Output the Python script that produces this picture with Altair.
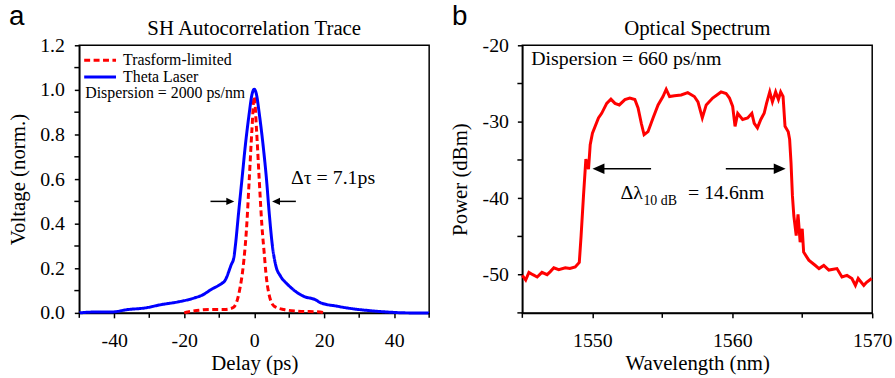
import altair as alt
import pandas as pd

SERIF = "'Liberation Serif', 'Times New Roman', Times, serif"
SANS = "'Liberation Sans', Arial, sans-serif"

# ---------------- Panel a: SH autocorrelation trace ----------------
theta_delay = [-50, -45.5, -40.8, -36.1, -31.3, -26.6, -21.9, -17.1, -14.7, -12.4, -9.0, -8.6,
               -6.6, -5.8, -5.4, -4.45, -3.5, -2.56, -1.42, -0.7, 0, 0.7, 1.42, 2.56, 3.5,
               4.26, 5.2, 6.2, 7.5, 9.5, 11.5, 14.2, 17.5, 18.9, 23.7, 28.4, 33.1, 37.9, 44.5, 50]
theta_volt = [0.0, 0.004, 0.004, 0.015, 0.022, 0.037, 0.049, 0.067, 0.081, 0.104, 0.135, 0.14,
              0.215, 0.25, 0.30, 0.452, 0.60, 0.748, 0.896, 0.975, 1.003, 0.975, 0.896, 0.748, 0.60,
              0.452, 0.30, 0.21, 0.165, 0.128, 0.1, 0.074, 0.059, 0.046, 0.03, 0.018, 0.01, 0.004, 0.0, 0.0]

tl_delay = [-20, -19, -12.4, -8.5, -6.2, -5.0, -4.26, -3.0, -2.2, -1.42, -0.66, 0,
            0.66, 1.42, 2.2, 2.9, 3.3, 4.26, 5.7, 8.5, 12.4, 18.9, 20]
tl_volt = [0.0, 0.004, 0.015, 0.015, 0.022, 0.05, 0.096, 0.23, 0.378, 0.6, 0.82, 0.97,
           0.82, 0.6, 0.39, 0.26, 0.185, 0.081, 0.03, 0.015, 0.008, 0.004, 0.0]

series_names = ["Trasform-limited", "Theta Laser"]
series_colors = ["#ff0000", "#0000ff"]

legend_x0 = [-48.6, -48.6]
legend_x1 = [-39.5, -39.5]
legend_y = [1.133, 1.058]

a_text = ["Trasform-limited", "Theta Laser", "Dispersion = 2000 ps/nm", "\u0394\u03c4 = 7.1ps"]
a_text_x = [-37.5, -37.5, -48.3, 10.5]
a_text_y = [1.113, 1.037, 0.963, 0.578]
a_text_size = [16, 16, 16, 20]

a_arrow_start = [-12.5, 11.9]
a_arrow_head = [-6.84, 6.24]
a_arrow_dir = ["right", "left"]
a_arrow_y = [0.5, 0.5]

a_x_major = [-40, -20, 0, 20, 40]
a_x_minor = [-50, -30, -10, 10, 30, 50]
a_y_major = [0.0, 0.2, 0.4, 0.6, 0.8, 1.0, 1.2]
a_y_minor = [0.1, 0.3, 0.5, 0.7, 0.9, 1.1]

# ---------------- Panel b: optical spectrum ----------------
wl = [1545.0, 1545.24, 1545.47, 1545.75, 1546.06, 1546.4, 1546.77, 1547.0, 1547.25, 1547.6,
      1548.07, 1548.4, 1548.78, 1549.07, 1549.2, 1549.37, 1549.54, 1549.73, 1549.85, 1550.01,
      1550.44, 1550.67, 1551.03, 1551.33, 1551.62, 1551.93, 1552.33, 1552.68, 1553.04, 1553.27,
      1553.5, 1553.7, 1553.98, 1554.34, 1554.7, 1555.05, 1555.28, 1555.52, 1555.87, 1556.35,
      1556.82, 1557.29, 1557.55, 1557.86, 1558.14, 1558.6, 1559.2, 1559.56, 1559.8, 1560.03,
      1560.2, 1560.39, 1560.74, 1561.1, 1561.4, 1561.57, 1561.8, 1562.04, 1562.28, 1562.45,
      1562.68, 1562.87, 1563.1, 1563.3, 1563.46, 1563.63, 1563.77, 1564.0, 1564.1, 1564.2,
      1564.3, 1564.4, 1564.57, 1564.7, 1564.85, 1565.0, 1565.1, 1565.47, 1565.94, 1566.2,
      1566.54, 1566.9, 1567.48, 1567.84, 1568.2, 1568.55, 1568.8, 1569.0, 1569.4, 1569.6, 1569.96]
power = [-50.1, -50.7, -49.7, -50.0, -50.3, -49.7, -50.0, -49.6, -49.1, -49.35,
         -49.1, -49.2, -49.0, -48.4, -44.9, -39.7, -34.9, -36.2, -33.0, -31.5,
         -29.5, -28.9, -27.6, -27.05, -27.6, -27.8, -27.1, -26.9, -27.1, -28.2,
         -30.2, -31.7, -31.3, -29.5, -27.8, -26.7, -25.75, -26.7, -26.6, -26.5,
         -26.2, -26.7, -27.4, -29.5, -27.8, -26.9, -26.1, -26.3, -26.9, -28.0,
         -30.6, -28.9, -29.7, -29.5, -28.9, -30.2, -30.8, -29.7, -28.9, -27.6,
         -26.1, -27.4, -26.1, -27.1, -26.1, -26.7, -30.6, -31.3, -32.3, -35.4,
         -39.7, -42.3, -44.9, -42.1, -45.75, -44.0, -47.05, -48.1, -48.8, -49.2,
         -48.8, -49.4, -49.2, -50.3, -50.1, -50.5, -51.4, -50.5, -51.4, -51.0, -50.5]

b_text = ["Dispersion = 660 ps/nm", "\u0394\u03bb", "10 dB", "= 14.6nm"]
b_text_x = [1545.64, 1552.02, 1553.65, 1556.84]
b_text_y = [-22.6, -40.13, -40.85, -40.13]
b_text_size = [20, 20, 14, 20]

b_arrow_start = [1554.2, 1559.54]
b_arrow_head = [1550.44, 1563.39]
b_arrow_dir = ["left", "right"]
b_arrow_y = [-36.15, -36.15]

b_x_major = [1550, 1560, 1570]
b_x_minor = [1545, 1555, 1565]
b_y_major = [-50, -40, -30, -20]
b_y_minor = [-55, -45, -35, -25]

PLOT_W, PLOT_H = 353, 270
HYPHEN_EXPR = "replace(datum.label, '\u2212', '-')"


# ---------------- helpers ----------------
def axis(title, values, label_pad, title_pad, fmt=None, expr=None):
    kw = {}
    if fmt is not None:
        kw["format"] = fmt
    if expr is not None:
        kw["labelExpr"] = expr
    return alt.Axis(title=title, values=values, grid=False,
                    domainColor="black", domainWidth=1.5, tickColor="black", tickWidth=1.5,
                    tickSize=5, labelFont=SERIF, labelFontSize=20, labelColor="black",
                    titleFont=SERIF, titleFontSize=21, titleFontWeight="normal",
                    titleColor="black", labelFlush=False, labelOverlap=False,
                    labelPadding=label_pad, titlePadding=title_pad, **kw)


def head_paths(r):
    return {"right": f"M-1,-{r}L1,0L-1,{r}Z", "left": f"M1,-{r}L-1,0L1,{r}Z"}


def panel(curves, xs, ys, x_minor, y_minor, text_df, arrows_df, legend_df, title, letter,
          head_size, head_ratio, color_enc=None, dash_enc=None, single_color=None,
          interp="linear"):
    layers = []
    if color_enc is not None:
        layers.append(alt.Chart(curves).mark_line(strokeWidth=3, interpolate=interp).encode(
            x=alt.X("x:Q", scale=xs["scale"], axis=xs["axis"]),
            y=alt.Y("y:Q", scale=ys["scale"], axis=ys["axis"]),
            color=color_enc, strokeDash=dash_enc, detail="series:N"))
    else:
        layers.append(alt.Chart(curves).mark_line(strokeWidth=3, color=single_color,
                                                  interpolate=interp).encode(
            x=alt.X("x:Q", scale=xs["scale"], axis=xs["axis"]),
            y=alt.Y("y:Q", scale=ys["scale"], axis=ys["axis"])))
    # minor ticks
    layers.append(alt.Chart(pd.DataFrame({"v": x_minor})).mark_rule(
        color="black", strokeWidth=1.5).encode(
        x=alt.X("v:Q", scale=xs["scale"]), y=alt.value(PLOT_H), y2=alt.value(PLOT_H + 5)))
    layers.append(alt.Chart(pd.DataFrame({"v": y_minor})).mark_rule(
        color="black", strokeWidth=1.5).encode(
        y=alt.Y("v:Q", scale=ys["scale"]), x=alt.value(0), x2=alt.value(-5)))
    if legend_df is not None:
        layers.append(alt.Chart(legend_df).mark_rule(strokeWidth=3).encode(
            x=alt.X("x0:Q", scale=xs["scale"]), x2="x1:Q",
            y=alt.Y("y:Q", scale=ys["scale"]),
            color=color_enc, strokeDash=dash_enc))
    layers.append(alt.Chart(text_df).mark_text(font=SERIF, align="left", baseline="alphabetic",
                                               color="black").encode(
        x=alt.X("x:Q", scale=xs["scale"]), y=alt.Y("y:Q", scale=ys["scale"]),
        text="text:N", size=alt.Size("size:Q", scale=None)))
    layers.append(alt.Chart(arrows_df).mark_rule(strokeWidth=1.5, color="black").encode(
        x=alt.X("start:Q", scale=xs["scale"]), x2="head:Q",
        y=alt.Y("y:Q", scale=ys["scale"])))
    paths = head_paths(head_ratio)
    layers.append(alt.Chart(arrows_df).mark_point(filled=True, color="black", opacity=1,
                                                  size=head_size, strokeWidth=0).encode(
        x=alt.X("head:Q", scale=xs["scale"]), y=alt.Y("y:Q", scale=ys["scale"]),
        shape=alt.Shape("dir:N", scale=alt.Scale(domain=["right", "left"],
                                                 range=[paths["right"], paths["left"]]),
                        legend=None)))
    # panel letter and panel title
    layers.append(alt.Chart(pd.DataFrame({"letter": [letter]})).mark_text(
        font=SANS, fontSize=28, align="left", baseline="alphabetic",
        color="black").encode(x=alt.value(-71), y=alt.value(-20), text="letter:N"))
    layers.append(alt.Chart(pd.DataFrame({"title": [title]})).mark_text(
        font=SERIF, fontSize=21, align="center", baseline="alphabetic",
        color="black").encode(x=alt.value(PLOT_W / 2), y=alt.value(-10), text="title:N"))
    return alt.layer(*layers).properties(width=PLOT_W, height=PLOT_H)


# ---------------- panel a ----------------
curves_a = pd.concat([
    pd.DataFrame({"x": tl_delay, "y": tl_volt, "series": series_names[0]}),
    pd.DataFrame({"x": theta_delay, "y": theta_volt, "series": series_names[1]}),
])
legend_a = pd.DataFrame({"x0": legend_x0, "x1": legend_x1, "y": legend_y, "series": series_names})
text_a = pd.DataFrame({"x": a_text_x, "y": a_text_y, "text": a_text, "size": a_text_size})
arrows_a = pd.DataFrame({"start": a_arrow_start, "head": a_arrow_head,
                         "dir": a_arrow_dir, "y": a_arrow_y})

xs_a = {"scale": alt.Scale(domain=[-50, 50], nice=False, zero=False),
        "axis": axis("Delay (ps)", a_x_major, 13, 2, fmt="d", expr=HYPHEN_EXPR)}
ys_a = {"scale": alt.Scale(domain=[0, 1.2], nice=False, zero=False),
        "axis": axis("Voltage (norm.)", a_y_major, 10, 11, fmt=".1f")}

color_enc = alt.Color("series:N", scale=alt.Scale(domain=series_names, range=series_colors),
                      legend=None)
dash_enc = alt.StrokeDash("series:N", scale=alt.Scale(domain=series_names,
                                                      range=[[6, 3.5], [1, 0]]), legend=None)

chart_a = panel(curves_a, xs_a, ys_a, a_x_minor, a_y_minor, text_a, arrows_a, legend_a,
                "SH Autocorrelation Trace", "a", 64, 0.9,
                color_enc=color_enc, dash_enc=dash_enc, interp="monotone")

# ---------------- panel b ----------------
curves_b = pd.DataFrame({"x": wl, "y": power})
text_b = pd.DataFrame({"x": b_text_x, "y": b_text_y, "text": b_text, "size": b_text_size})
arrows_b = pd.DataFrame({"start": b_arrow_start, "head": b_arrow_head,
                         "dir": b_arrow_dir, "y": b_arrow_y})
xs_b = {"scale": alt.Scale(domain=[1545, 1570], nice=False, zero=False),
        "axis": axis("Wavelength (nm)", b_x_major, 13, 2, fmt="d")}
ys_b = {"scale": alt.Scale(domain=[-55, -20], nice=False, zero=False),
        "axis": axis("Power (dBm)", b_y_major, 9, 12, fmt="d", expr=HYPHEN_EXPR)}

chart_b = panel(curves_b, xs_b, ys_b, b_x_minor, b_y_minor, text_b, arrows_b, None,
                "Optical Spectrum", "b", 144, 0.67, single_color="#ff0000")

chart = alt.hconcat(chart_a, chart_b, spacing=12).properties(
    padding={"left": 7, "top": 1, "right": 2, "bottom": 2},
    background="white",
).configure_view(stroke="black", strokeWidth=1.5)

chart.save("out.html", embed_options={"renderer": "svg", "actions": False})
